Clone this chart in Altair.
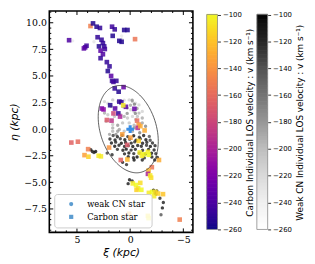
import altair as alt
import numpy as np
import pandas as pd

VMIN, VMAX = -260, -100
KINDS = ["weak CN star", "Carbon star"]

# ---- weak CN stars (xi, eta in kpc, velocity km/s)
cn_xi = [5.40, 3.40, 0.80, 0.77,
         2.41, 2.10, 1.64, 1.17, 0.86, 0.56, 0.09, -0.22, -0.52, -0.83, 1.79, 1.33, 0.71, 0.25,
         -0.06, -0.37, -0.83, -1.14, 2.41, 2.10, 1.48, 0.86, 0.56, 0.25, -0.22, -0.52, 2.25, 1.64,
         1.17, 0.71, 0.09, -0.37, 1.02, 0.56, 1.64, -0.22, -0.68,
         1.64, 1.17, -0.37, -0.90, -1.14, -1.45, -1.14, 1.33, 1.94, -0.19, -0.40, -0.65, -0.49, -0.03, 0.28,
         1.60, 1.20, 0.75, 0.22, -0.33, -0.86, -1.27, -1.80,
         1.90, 1.42, 0.93, 0.50, 0.05, -0.55, -0.95, -1.48, -1.88,
         1.76, 1.36, 0.83, 0.43, -0.10, -0.43, -1.17, -1.57, -2.10,
         1.45, 1.05, 0.53, 0.18, -0.25, -0.71, -1.05, -1.54, -1.90, -2.34,
         1.20, 0.68, 0.37, -0.09, -0.49, -1.17, -1.73, -2.25,
         0.53, 0.12, -0.34, -0.86, -1.42, -2.01, -2.41,
         0.18, -0.31, -0.65, -1.33, -2.04, -2.56,
         0.71, 0.34, -0.37, -1.14, -2.31,
         3.70, 3.55, 3.40, 3.24, 2.16, 1.70,
         0.06, -0.19, 0.19, -2.19, -2.34, -2.50, -2.42, -2.80, -3.12, -3.03, -2.90]
cn_eta = [8.30, 8.21, 8.77, 8.46,
          2.59, 2.44, 2.75, 2.59, 2.65, 2.72, 2.75, 2.59, 2.44, 2.28, 2.13, 2.04, 2.13, 1.98,
          1.82, 1.67, 1.51, 1.67, 1.51, 1.36, 1.20, 1.36, 1.20, 1.05, 1.20, 0.90, 0.74, 0.43,
          0.37, 0.59, 0.59, 0.37, -0.03, -0.19, -0.19, -0.19, 1.20,
          0.12, -0.19, 0.12, -0.34, 0.59, 0.28, 1.05, -0.49, -0.49, 2.72, 2.35, 1.94, 1.48, 2.25, 1.48,
          -0.60, -0.72, -0.58, -0.70, -0.62, -0.75, -0.60, -0.68,
          -0.92, -1.02, -0.90, -1.00, -0.94, -1.05, -0.90, -0.99, -1.04,
          -1.30, -1.22, -1.33, -1.25, -1.31, -1.20, -1.32, -1.24, -1.30,
          -1.60, -1.52, -1.62, -1.55, -1.63, -1.53, -1.60, -1.52, -1.62, -1.55,
          -1.90, -1.98, -1.88, -1.97, -1.90, -1.99, -1.91, -1.96,
          -2.32, -2.24, -2.30, -2.25, -2.33, -2.26, -2.30,
          -2.60, -2.68, -2.62, -2.70, -2.61, -2.67,
          -3.12, -3.33, -2.90, -2.90, -2.90,
          -1.94, -2.10, -2.19, -2.10, -2.25, -2.41,
          -4.75, -4.88, -5.12, -5.74, -5.99, -5.80, -6.10, -6.50, -6.90, -7.40, -8.05]
cn_v = [-235, -230, -235, -225,
        -215, -220, -205, -215, -200, -220, -215, -205, -220, -215, -195, -215, -185, -200,
        -215, -205, -195, -215, -190, -205, -200, -215, -190, -205, -215, -200, -195, -205,
        -180, -200, -205, -195, -185, -200, -195, -185, -200,
        -190, -180, -175, -165, -185, -170, -190, -175, -185, -175, -165, -180, -170, -185, -175,
        -130, -115, -110, -120, -105, -125, -110, -140,
        -120, -110, -125, -105, -115, -110, -120, -105, -130,
        -110, -120, -105, -115, -110, -125, -110, -115, -120,
        -105, -115, -110, -120, -105, -115, -110, -125, -105, -115,
        -120, -110, -105, -115, -110, -120, -105, -110,
        -115, -105, -120, -110, -115, -105, -125,
        -110, -115, -105, -120, -110, -115,
        -110, -120, -105, -115, -110,
        -115, -110, -120, -105, -130, -120,
        -110, -115, -110, -105, -110, -115, -100, -120, -115, -110, -140]

# ---- carbon stars
c_xi = [3.73, 3.49, 3.15, 2.84, 1.70, 1.45, 0.56, 0.25, -0.46, 5.74, 4.23, 4.10, 4.35, 3.06, 2.69,
        2.56, 2.93, 2.44, 2.78, 2.38, 2.56, 2.78, 1.64, 1.02, 0.80, 2.19, 1.94, 2.10, 1.79, 1.70,
        1.57, 1.30, 1.45, 1.08, 0.62,
        1.02, 0.83, 2.66, 2.50, 1.88, 1.42, 1.57, 1.11, 0.95, 2.19, 1.75, 0.40, -0.40, 0.65,
        -0.65, -0.80, -0.71, -0.96, -1.36,
        0.74, -0.03, -0.80, 0.28, 1.98, 0.88, 0.26,
        5.53, 4.91, 3.95, 4.29, 3.92, 2.96, 2.75,
        -0.90, -1.30, -1.67, -1.76, -1.10,
        -2.04, -1.73, -1.67, -1.88, -1.97, -2.71,
        -0.25, -0.55, -0.75, -0.95, -1.05, -0.60,
        -1.76, -2.07, -2.25, -2.38, -2.62, -3.09,
        0.10, -1.67, -1.73, -4.66]
c_eta = [9.69, 9.94, 9.63, 9.51, 9.63, 9.38, 9.32, 9.32, 8.46, 8.36, 7.69, 7.84, 7.59, 8.64, 8.40,
         8.09, 7.78, 7.78, 7.38, 7.53, 7.04, 6.67, 8.77, 8.30, 8.21, 6.30, 5.90, 5.46, 5.00, 4.54,
         4.44, 4.54, 3.83, 3.52, 3.95,
         2.59, 2.53, 1.94, 1.85, 2.25, 1.94, 1.48, 1.48, 1.18, 0.86, 0.80, 2.10, 1.91, 2.25,
         0.80, 0.43, 0.12, 0.28, -0.12,
         -0.49, -0.80, -1.11, -1.48, -1.73, -2.90, -2.85,
         -1.26, -1.18, -1.88, -2.44, -2.59, -2.50, -2.56,
         -2.19, -2.35, -2.13, -2.41, -2.50,
         -3.58, -3.89, -4.20, -4.35, -4.56, -2.90,
         -5.10, -5.25, -5.55, -5.05, -5.70, -5.70,
         -5.99, -5.90, -6.30, -5.90, -6.05, -6.11,
         -7.95, -8.15, -8.36, -8.50]
c_v = [-150, -255, -255, -250, -245, -250, -255, -255, -155, -240, -240, -245, -235, -250, -250,
       -250, -255, -250, -235, -245, -240, -250, -255, -255, -255, -250, -250, -255, -235, -250,
       -245, -250, -250, -255, -230,
       -250, -250, -220, -215, -255, -235, -180, -250, -200, -170, -190, -235, -230, -105,
       -160, -140, -195, -130, -130,
       -135, -135, -115, -170, -140, -165, -125,
       -165, -160, -150, -135, -115, -105, -105,
       -105, -100, -105, -100, -105,
       -155, -125, -200, -105, -110, -130,
       -105, -100, -105, -110, -100, -115,
       -105, -100, -105, -110, -115, -120,
       -130, -110, -105, -150]

center_xi = [0.0]
center_eta = [0.0]

# ellipse parameters (centre, semi-axes in kpc, position angle in deg)
ELL_CX, ELL_CY, ELL_A, ELL_B, ELL_PA = 0.18, 0.0, 4.23, 2.63, 18.0

# axis ticks / labels
x_major = [5, 0, -5]
x_minor = [7, 6, 4, 3, 2, 1, -1, -2, -3, -4]
y_major = [10, 7.5, 5, 2.5, 0, -2.5, -5, -7.5]
y_minor = [-9.5, -9, -8.5, -8, -7, -6.5, -6, -5.5, -4.5, -4, -3.5, -3, -2, -1.5, -1, -0.5,
           0.5, 1, 1.5, 2, 3, 3.5, 4, 4.5, 5.5, 6, 6.5, 7, 8, 8.5, 9, 9.5, 10.5, 11]
cb_ticks = [-100, -120, -140, -160, -180, -200, -220, -240, -260]

# white-to-black grey ramp (stops at -260, -240, ..., -100)
GREY_STOPS = [-260, -240, -220, -200, -180, -160, -140, -120, -100]
GREY_COLORS = ["#ffffff", "#f0f0f0", "#d9d9d9", "#bdbdbd", "#969696",
               "#737373", "#525252", "#252525", "#000000"]

W, H = 146, 225
SERIF = "DejaVu Serif"
SANS = "DejaVu Sans"

xscale = alt.Scale(domain=[-5.9, 7.6], reverse=True, nice=False, zero=False)
yscale = alt.Scale(domain=[-9.7, 11.1], nice=False, zero=False)


def grey_scale():
    return alt.Scale(domain=GREY_STOPS, range=GREY_COLORS)


def plasma_scale():
    return alt.Scale(scheme="plasma", domain=[VMIN, VMAX])


x_axis = alt.Axis(values=x_major, format="d", ticks=False, domain=False, grid=False,
                  labelFont=SERIF, labelFontSize=9.5, labelPadding=2, labelColor="black",
                  titleFont=SANS, titleFontStyle="italic", titleFontWeight="normal",
                  titleFontSize=11, titlePadding=3, titleColor="black")
y_axis = alt.Axis(values=y_major, format=".1f", ticks=False, domain=False, grid=False,
                  labelFont=SERIF, labelFontSize=9.5, labelPadding=3, labelColor="black",
                  titleFont=SANS, titleFontStyle="italic", titleFontWeight="normal",
                  titleFontSize=11, titlePadding=4, titleColor="black")
x_enc = alt.X("xi:Q", scale=xscale, title="ξ (kpc)", axis=x_axis)
y_enc = alt.Y("eta:Q", scale=yscale, title="η (kpc)", axis=y_axis)

shape_enc = alt.Shape("kind:N", scale=alt.Scale(domain=KINDS, range=["circle", "square"]),
                      legend=alt.Legend(orient="bottom-left", offset=5, title=None,
                                        labelFont=SERIF, labelFontSize=8.5, labelColor="black",
                                        symbolFillColor="#3383c4", symbolStrokeColor="#3383c4",
                                        symbolStrokeWidth=0, symbolSize=18, symbolOffset=7,
                                        labelOffset=12, rowPadding=4, padding=6,
                                        strokeColor="#cccccc", fillColor="rgba(255,255,255,0.8)",
                                        cornerRadius=3))

cn_df = pd.DataFrame({"xi": cn_xi, "eta": cn_eta, "v": cn_v, "kind": KINDS[0]})
c_df = pd.DataFrame({"xi": c_xi, "eta": c_eta, "v": c_v, "kind": KINDS[1]})

cn_layer = alt.Chart(cn_df).mark_point(filled=True, size=12, opacity=0.8).encode(
    x=x_enc, y=y_enc,
    color=alt.Color("v:Q", scale=grey_scale(), legend=None),
    shape=shape_enc,
)
c_layer = alt.Chart(c_df).mark_point(filled=True, size=22, opacity=0.85).encode(
    x=x_enc, y=y_enc,
    color=alt.Color("v:Q", scale=plasma_scale(), legend=None),
    shape=shape_enc,
)

t = np.linspace(0, 2 * np.pi, 181)
pa = np.deg2rad(ELL_PA)
ell_df = pd.DataFrame({
    "xi": ELL_CX + ELL_A * np.cos(t) * np.sin(pa) + ELL_B * np.sin(t) * np.cos(pa),
    "eta": ELL_CY + ELL_A * np.cos(t) * np.cos(pa) - ELL_B * np.sin(t) * np.sin(pa),
    "o": np.arange(len(t)),
})
ell_layer = alt.Chart(ell_df).mark_line(color="#333333", strokeWidth=0.8).encode(
    x=x_enc, y=y_enc, order="o:Q")

center_layer = alt.Chart(pd.DataFrame({"xi": center_xi, "eta": center_eta})).mark_point(
    shape="cross", filled=True, size=60, color="#3a8ee6", opacity=1).encode(x=x_enc, y=y_enc)


def tick_rules(vals, length, side):
    if side in ("bottom", "top"):
        df = pd.DataFrame({"xi": vals})
        y0 = H if side == "bottom" else 0
        y1 = H - length if side == "bottom" else length
        return alt.Chart(df).mark_rule(color="black", strokeWidth=1).encode(
            x=x_enc, y=alt.value(y0), y2=alt.value(y1))
    df = pd.DataFrame({"eta": vals})
    x0 = 0 if side == "left" else W
    x1 = length if side == "left" else W - length
    return alt.Chart(df).mark_rule(color="black", strokeWidth=1).encode(
        y=y_enc, x=alt.value(x0), x2=alt.value(x1))


tick_layers = []
for side in ("bottom", "top"):
    tick_layers += [tick_rules(x_major, 4, side), tick_rules(x_minor, 2, side)]
for side in ("left", "right"):
    tick_layers += [tick_rules(y_major, 4, side), tick_rules(y_minor, 2, side)]

frame = alt.Chart(pd.DataFrame({"f": [0]})).mark_rect(
    fill=None, filled=False, stroke="black", strokeWidth=1.6).encode(
    x=alt.value(0), x2=alt.value(W), y=alt.value(0), y2=alt.value(H))

main = alt.layer(cn_layer, c_layer, ell_layer, center_layer, *tick_layers, frame).resolve_scale(
    color="independent").properties(width=W, height=H)

# colour bars: plot area slightly taller than the gradient so the end labels fit inside
CB_DOMAIN = [-262.9, -97.4]
grad = pd.DataFrame({"v": np.arange(VMIN, VMAX, 1.0)})
grad["v2"] = grad["v"] + 1.5
outline_df = pd.DataFrame({"v": [VMIN], "v2": [VMAX]})


def colorbar(color_scale, title):
    y_cb = alt.Y("v:Q", scale=alt.Scale(domain=CB_DOMAIN, nice=False, zero=False),
                 axis=alt.Axis(orient="right", values=cb_ticks, format="d", tickSize=3,
                               tickColor="black", tickWidth=0.8, domain=False, grid=False,
                               labelFont=SANS, labelFontSize=7, labelPadding=2, labelColor="black",
                               title=title, titleAngle=270, titleBaseline="top", titleFont=SANS,
                               titleFontSize=9, titleFontWeight="normal", titlePadding=4,
                               titleColor="black"))
    bar = alt.Chart(grad).mark_rect().encode(
        y=y_cb, y2="v2:Q",
        color=alt.Color("v:Q", scale=color_scale, legend=None),
    )
    outline = alt.Chart(outline_df).mark_rect(
        fill=None, filled=False, stroke="#8a8a8a", strokeWidth=0.8).encode(y=y_cb, y2="v2:Q")
    return alt.layer(bar, outline).properties(width=11, height=226)


cb1 = colorbar(plasma_scale(), "Carbon Individual LOS velocity : v (km s⁻¹)")
cb2 = colorbar(grey_scale(), "Weak CN Individual LOS velocity : v (km s⁻¹)")
bars = alt.hconcat(cb1, cb2, spacing=1).resolve_scale(color="independent")

chart = alt.hconcat(main, bars, spacing=12).resolve_scale(
    color="independent", shape="independent").resolve_legend(shape="independent").properties(
    padding={"left": 0, "top": 0, "right": 2, "bottom": 0}
).configure_view(stroke=None)

chart.save("out.html", embed_options={"renderer": "svg", "actions": False})
